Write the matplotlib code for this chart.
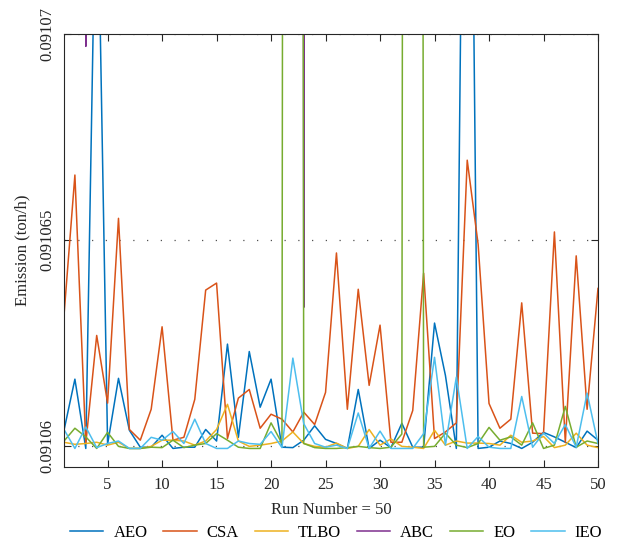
import numpy as np
import matplotlib
matplotlib.use("Agg")
import matplotlib.pyplot as plt

runs = list(range(1, 51))

aeo = [0.09106039, 0.09106163, 0.09105995, 0.09107500, 0.09106005, 0.09106165, 0.09106039, 0.09105998, 0.09105998, 0.09106027,
       0.09105995, 0.09105998, 0.09105998, 0.09106041, 0.09106013, 0.09106248, 0.09106022, 0.09106230, 0.09106095, 0.09106163,
       0.09105998, 0.09105997, 0.09106015, 0.09106050, 0.09106017, 0.09106007, 0.09105995, 0.09106138, 0.09105995, 0.09106015,
       0.09105997, 0.09106056, 0.09105998, 0.09105998, 0.09106299, 0.09106172, 0.09105995, 0.09108600, 0.09105995, 0.09105998,
       0.09106013, 0.09106007, 0.09105995, 0.09106010, 0.09106034, 0.09106023, 0.09106010, 0.09105997, 0.09106037, 0.09106015]

csa = [0.09106318, 0.09106658, 0.09106007, 0.09106269, 0.09106105, 0.09106553, 0.09106041, 0.09106015, 0.09106090, 0.09106290,
       0.09106015, 0.09106022, 0.09106114, 0.09106379, 0.09106396, 0.09106019, 0.09106117, 0.09106138, 0.09106044, 0.09106078,
       0.09106066, 0.09106035, 0.09106083, 0.09106053, 0.09106131, 0.09106469, 0.09106090, 0.09106381, 0.09106148, 0.09106294,
       0.09106010, 0.09106010, 0.09106087, 0.09106420, 0.09106019, 0.09106035, 0.09106057, 0.09106694, 0.09106490, 0.09106104,
       0.09106044, 0.09106066, 0.09106348, 0.09106032, 0.09106031, 0.09106520, 0.09106010, 0.09106462, 0.09106090, 0.09106383]

tlbo = [0.09106010, 0.09106005, 0.09106007, 0.09106010, 0.09106003, 0.09106010, 0.09105995, 0.09105995, 0.09106000, 0.09106015,
        0.09106015, 0.09106013, 0.09106003, 0.09106013, 0.09106041, 0.09106102, 0.09106013, 0.09106000, 0.09106003, 0.09106007,
        0.09106013, 0.09106035, 0.09106007, 0.09106000, 0.09105998, 0.09106008, 0.09105995, 0.09106000, 0.09106041, 0.09106003,
        0.09106018, 0.09106000, 0.09105998, 0.09105995, 0.09106039, 0.09106003, 0.09106013, 0.09106008, 0.09106008, 0.09106007,
        0.09106003, 0.09106027, 0.09106010, 0.09106013, 0.09106024, 0.09105997, 0.09106003, 0.09106032, 0.09106003, 0.09105997]

abc = [0.09134, 0.09141, 0.09106970, 0.09138, 0.09129, 0.09136, 0.09132, 0.09140, 0.09127, 0.09135,
       0.09131, 0.09139, 0.09133, 0.09128, 0.09137, 0.09130, 0.09142, 0.09135, 0.09129, 0.09133,
       0.09138, 0.09136, 0.09106337, 0.09131, 0.09134, 0.09140, 0.09128, 0.09135, 0.09132, 0.09137,
       0.09130, 0.09139, 0.09133, 0.09127, 0.09136, 0.09131, 0.09138, 0.09134, 0.09129, 0.09141,
       0.09135, 0.09130, 0.09137, 0.09132, 0.09139, 0.09128, 0.09134, 0.09136, 0.09131, 0.09133]

eo = [0.09106013, 0.09106044, 0.09106023, 0.09105995, 0.09106034, 0.09106000, 0.09105995, 0.09105995, 0.09105998, 0.09105997,
      0.09106015, 0.09105997, 0.09106003, 0.09106007, 0.09106031, 0.09106015, 0.09105998, 0.09105995, 0.09105995, 0.09106057,
      0.09106007, 0.09128, 0.09106007, 0.09105997, 0.09105995, 0.09105995, 0.09105997, 0.09106000, 0.09105997, 0.09105995,
      0.09105998, 0.09106030, 0.09126, 0.09105998, 0.09106000, 0.09106032, 0.09106003, 0.09105997, 0.09106007, 0.09106046,
      0.09106015, 0.09106023, 0.09106003, 0.09106057, 0.09105995, 0.09106003, 0.09106097, 0.09105998, 0.09106013, 0.09106007]

ieo = [0.09106041, 0.09105995, 0.09106047, 0.09105997, 0.09106007, 0.09106013, 0.09105995, 0.09105995, 0.09106022, 0.09106015,
       0.09106036, 0.09106007, 0.09106066, 0.09106007, 0.09105995, 0.09105995, 0.09106013, 0.09106007, 0.09106005, 0.09106036,
       0.09105997, 0.09106214, 0.09106055, 0.09106007, 0.09105998, 0.09106003, 0.09105995, 0.09106081, 0.09105995, 0.09106037,
       0.09105995, 0.09105995, 0.09105995, 0.09106031, 0.09106216, 0.09106003, 0.09106168, 0.09105995, 0.09106024, 0.09105998,
       0.09105995, 0.09105995, 0.09106121, 0.09105998, 0.09106032, 0.09106007, 0.09106053, 0.09105998, 0.09106129, 0.09106007]

names = ["AEO", "CSA", "TLBO", "ABC", "EO", "IEO"]
colors = ["#0072BD", "#D95319", "#EDB120", "#7E2F8E", "#77AC30", "#4DBEEE"]

xticks = [5, 10, 15, 20, 25, 30, 35, 40, 45, 50]
yticks = [0.09106, 0.091065, 0.09107]
ytick_labels = ["0.09106", "0.091065", "0.09107"]

plt.rcParams["font.family"] = ["Liberation Serif", "DejaVu Serif"]
plt.rcParams["font.size"] = 12

fig = plt.figure(figsize=(6.2, 5.44), dpi=100)
ax = fig.add_axes([64 / 620, 1 - 467 / 544, (598 - 64) / 620, (467 - 34) / 544])

for y, nm, c in zip([aeo, csa, tlbo, abc, eo, ieo], names, colors):
    ax.plot(runs, y, color=c, lw=1.1, label=nm)

ax.set_xlim(1, 50)
ax.set_ylim(0.0910595, 0.09107)
ax.set_xticks(xticks)
ax.set_yticks(yticks)
ax.set_yticklabels(ytick_labels, rotation=90, va="center")
ax.tick_params(direction="in", top=True, right=True, length=5, width=0.8, colors="#262626",
               labelcolor="#262626", labelsize=12)
ax.tick_params(axis="y", pad=6)
ax.tick_params(axis="x", pad=7)
ax.yaxis.grid(True, linestyle=(0, (1, 10)), color="#262626", lw=0.9, alpha=0.8)
for s in ax.spines.values():
    s.set_color("#262626")
    s.set_linewidth(0.8)

ax.set_xlabel("Run Number = 50", fontsize=12, color="#262626", labelpad=7)
ax.set_ylabel("Emission (ton/h)", fontsize=12, color="#262626", labelpad=7)

fig.legend(loc="center", bbox_to_anchor=(0.542, 1 - 533 / 544), ncol=6, frameon=False,
           handlelength=2.0, handletextpad=0.6, columnspacing=0.95, fontsize=12)

fig.savefig("out.png", dpi=100)
